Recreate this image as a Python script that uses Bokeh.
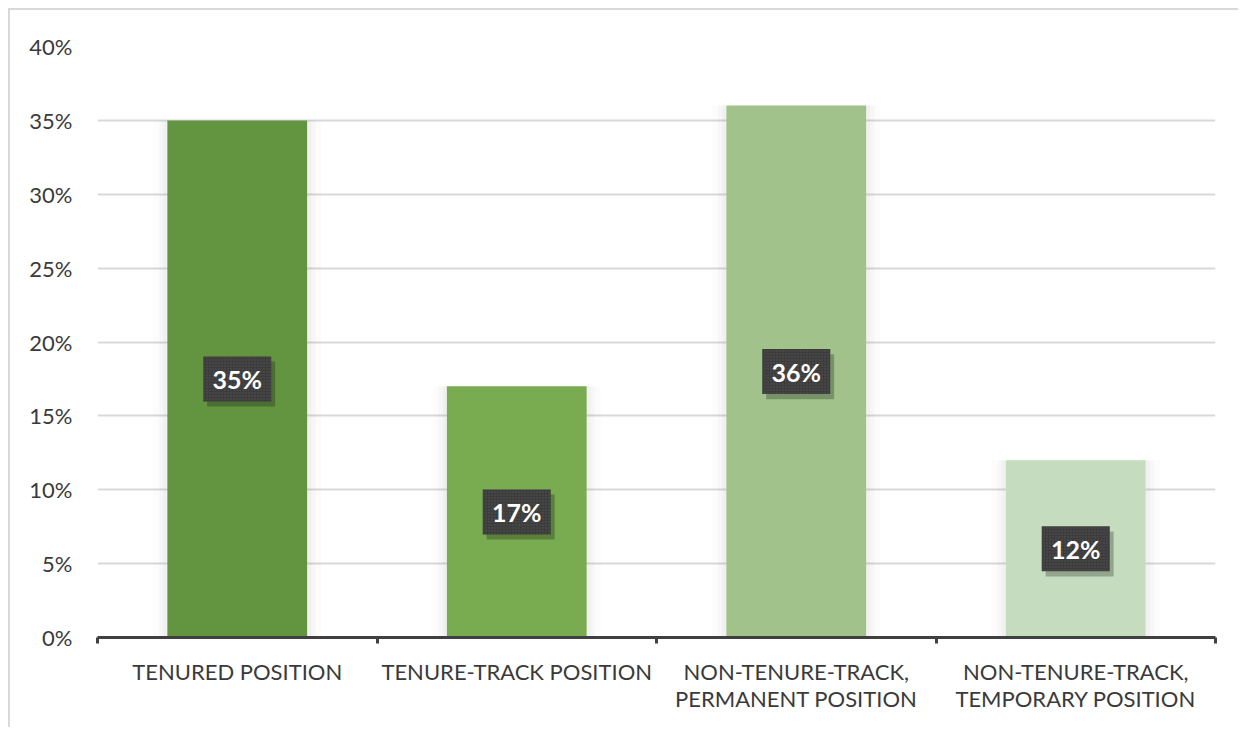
from bokeh.plotting import figure
from bokeh.models import Range1d, FixedTicker, PrintfTickFormatter, ColumnDataSource
from bokeh.transform import dodge
from bokeh.embed import file_html
from bokeh.resources import INLINE
from bokeh.core.properties import value

# ---- data ----
categories = ["TENURED POSITION",
              "TENURE-TRACK POSITION",
              "NON-TENURE-TRACK,\nPERMANENT POSITION",
              "NON-TENURE-TRACK,\nTEMPORARY POSITION"]
shares = [35, 17, 36, 12]
share_labels = ["35%", "17%", "36%", "12%"]
bar_colors = ["#639440", "#79ab51", "#a1c38b", "#c6dcbe"]
y_ticks = [0, 5, 10, 15, 20, 25, 30, 35, 40]

FONT = "Lato"
TXT = "#3a3a3a"

n = len(categories)
centers = [i + 0.5 for i in range(n)]      # category slots on the x scale
bounds = list(range(n + 1))                # slot boundaries

src = ColumnDataSource(dict(
    x=centers,
    share=shares,
    mid=[v / 2 for v in shares],
    lab=share_labels,
    color=bar_colors,
))

p = figure(width=1230, height=719,
           x_range=Range1d(0, n),
           y_range=Range1d(0, y_ticks[-1]),
           output_backend="svg", toolbar_location=None,
           min_border_left=87, min_border_right=25,
           min_border_top=36, min_border_bottom=92)
p.styles = {"margin-left": "8px", "margin-top": "8px",
            "border-top": "2px solid #d9d9d9", "border-left": "2px solid #d9d9d9"}
p.outline_line_color = None
p.background_fill_color = "white"
p.border_fill_color = "white"

# grid
p.xgrid.visible = False
p.ygrid.grid_line_color = "#d9d9d9"
p.ygrid.grid_line_width = 2
p.ygrid.ticker = FixedTicker(ticks=y_ticks)

# y axis
yax = p.yaxis[0]
yax.ticker = FixedTicker(ticks=y_ticks)
yax.formatter = PrintfTickFormatter(format="%d%%")
yax.axis_line_color = None
yax.major_tick_line_color = None
yax.minor_tick_line_color = None
yax.major_label_text_font = FONT
yax.major_label_text_font_size = "22px"
yax.major_label_text_color = TXT
yax.major_label_standoff = 19

# x axis: labels at slot centres, ticks at slot boundaries
xax = p.xaxis[0]
xax.ticker = FixedTicker(ticks=centers, minor_ticks=bounds)
xax.major_label_overrides = {c: lab for c, lab in zip(centers, categories)}
xax.axis_line_color = "#404040"
xax.axis_line_width = 3
xax.major_tick_line_color = None
xax.minor_tick_line_color = "#404040"
xax.minor_tick_line_width = 3
xax.minor_tick_in = 0
xax.minor_tick_out = 6
xax.major_tick_in = 0
xax.major_tick_out = 6
xax.major_label_text_font = FONT
xax.major_label_text_font_size = "22px"
xax.major_label_text_color = TXT
xax.major_label_standoff = 14
xax.major_label_text_line_height = 1.0

# soft bar shadows
for w, a in [(0.60, 0.025), (0.56, 0.04), (0.53, 0.05)]:
    p.vbar(x="x", top="share", bottom=0, width=w, source=src,
           fill_color="#808080", fill_alpha=a, line_color=None)

# bars
p.vbar(x="x", top="share", bottom=0, width=0.5, source=src,
       fill_color="color", line_color=None)

# label boxes: shadow, then box, then text
p.rect(x=dodge("x", 0.014), y=dodge("mid", -0.35), width=68, height=45,
       width_units="screen", height_units="screen", source=src,
       fill_color="#000000", fill_alpha=0.25, line_color=None)
p.rect(x="x", y="mid", width=68, height=45,
       width_units="screen", height_units="screen", source=src,
       fill_color="#3c3c3c", line_color=None,
       hatch_pattern=value("dot"), hatch_color="#5a5a5a", hatch_scale=3, hatch_alpha=0.8)
p.text(x="x", y="mid", text="lab", source=src,
       text_font=value(FONT), text_font_style="bold", text_font_size="25px",
       text_color="white", text_align="center", text_baseline="middle")

open("out.html", "w").write(file_html(p, INLINE))
